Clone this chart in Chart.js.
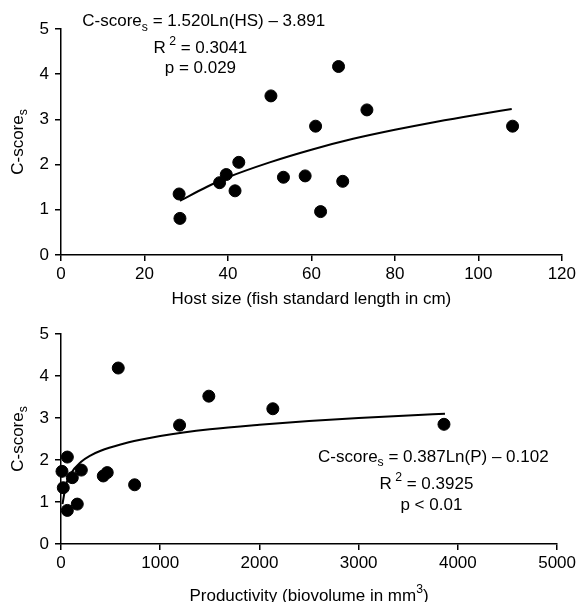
<!DOCTYPE html>
<html>
<head>
<meta charset="utf-8">
<script src="https://cdn.jsdelivr.net/npm/chart.js@4.4.1/dist/chart.umd.min.js"></script>
<style>
  body { margin: 0; background: #fff; }
  #wrap { position: relative; width: 579px; height: 602px; overflow: hidden; }
  canvas { position: absolute; left: 0; }
</style>
</head>
<body>
<div id="wrap">
  <canvas id="grafico_host" width="579" height="315" style="top:0"></canvas>
  <canvas id="grafico_prod" width="579" height="297" style="top:305px"></canvas>
</div>
<script>
// dados
const hostSize = [28.3, 28.5, 38.0, 39.6, 41.7, 42.6, 50.3, 53.3, 58.5, 61.0, 62.2, 66.5, 67.5, 73.3, 108.2];
const hostScore = [1.35, 0.81, 1.60, 1.78, 1.42, 2.05, 3.52, 1.72, 1.75, 2.85, 0.96, 4.17, 1.63, 3.21, 2.85];
const hostFitX = [28.5, 35, 40, 50, 60, 70, 80, 90, 100, 108];
const hostFitY = [1.20, 1.51, 1.72, 2.05, 2.33, 2.57, 2.77, 2.95, 3.11, 3.23];
const hostTicks = [0, 20, 40, 60, 80, 100, 120];

const prod = [10, 23, 64, 64, 114, 164, 205, 426, 466, 577, 742, 1195, 1490, 2135, 3860];
const prodScore = [1.73, 1.34, 2.07, 0.80, 1.58, 0.95, 1.76, 1.62, 1.70, 4.19, 1.41, 2.83, 3.52, 3.22, 2.85];
const prodFitX = [15, 50, 100, 200, 300, 400, 600, 800, 1000, 1500, 2000, 2500, 3000, 3500, 3870];
const prodFitY = [0.95, 1.41, 1.68, 1.95, 2.11, 2.22, 2.37, 2.48, 2.57, 2.73, 2.84, 2.93, 3.00, 3.06, 3.10];
const prodTicks = [0, 1000, 2000, 3000, 4000, 5000];

const scoreTicks = [0, 1, 2, 3, 4, 5];

const FONT = '"Liberation Sans", Arial, sans-serif';
const FS = 17;

// partes de texto: [texto, 'sub' | 'sup' | '']
function drawRich(ctx, parts, x, y) {
  let w = 0;
  parts.forEach(p => {
    ctx.font = (p[1] ? FS * 0.72 : FS) + 'px ' + FONT;
    w += ctx.measureText(p[0]).width;
  });
  let cx = x - w / 2;
  ctx.textAlign = 'left';
  ctx.textBaseline = 'middle';
  ctx.fillStyle = '#000';
  parts.forEach(p => {
    ctx.font = (p[1] ? FS * 0.72 : FS) + 'px ' + FONT;
    let dy = p[1] === 'sub' ? FS * 0.32 : (p[1] === 'sup' ? -FS * 0.38 : 0);
    ctx.fillText(p[0], cx, y + dy);
    cx += ctx.measureText(p[0]).width;
  });
}

const yTitle = [['C-score', ''], ['s', 'sub']];

function textPlugin(xTitle, notes, titleOffset) {
  return {
    id: 'textos',
    afterDraw(chart) {
      const ctx = chart.ctx;
      const a = chart.chartArea;
      const sx = chart.scales.x, sy = chart.scales.y;
      ctx.save();
      drawRich(ctx, xTitle, (a.left + a.right) / 2, a.bottom + titleOffset);
      notes.forEach(n => drawRich(ctx, n.parts, sx.getPixelForValue(n.x), sy.getPixelForValue(n.y)));
      ctx.translate(18, (a.top + a.bottom) / 2);
      ctx.rotate(-Math.PI / 2);
      drawRich(ctx, yTitle, 0, 0);
      ctx.restore();
    }
  };
}

function axes(xMax, xTicks, xHeight) {
  const common = {
    type: 'linear',
    grid: { drawOnChartArea: false, drawTicks: true, tickLength: 6, color: '#000', lineWidth: 1.5 },
    border: { display: true, color: '#000', width: 1.5 },
    ticks: { color: '#000', font: { family: FONT, size: FS }, callback: v => String(v) }
  };
  return {
    x: Object.assign({}, common, {
      min: 0, max: xMax,
      afterBuildTicks: s => { s.ticks = xTicks.map(v => ({ value: v })); },
      ticks: Object.assign({}, common.ticks, { padding: 3, maxRotation: 0 }),
      afterFit: s => { s.height = xHeight; }
    }),
    y: Object.assign({}, common, {
      min: 0, max: 5,
      afterBuildTicks: s => { s.ticks = scoreTicks.map(v => ({ value: v })); },
      ticks: Object.assign({}, common.ticks, { padding: 6 }),
      afterFit: s => { s.width = 61; }
    })
  };
}

function montar(canvas, xs, ys, fx, fy, xMax, xTicks, xHeight, rightPad, plugin) {
  return new Chart(canvas, {
    type: 'scatter',
    data: {
      datasets: [{
        data: xs.map((v, i) => ({ x: v, y: ys[i] })),
        backgroundColor: '#000',
        borderColor: '#000',
        pointRadius: 6,
        pointHoverRadius: 6,
        clip: false,
        order: 0
      }, {
        data: fx.map((v, i) => ({ x: v, y: fy[i] })),
        showLine: true,
        borderColor: '#000',
        borderWidth: 2,
        pointRadius: 0,
        cubicInterpolationMode: 'monotone',
        clip: false,
        order: 1
      }]
    },
    options: {
      responsive: false,
      animation: false,
      events: [],
      layout: { padding: { top: 29, right: rightPad, left: 0, bottom: 0 } },
      plugins: { legend: { display: false }, tooltip: { enabled: false } },
      scales: axes(xMax, xTicks, xHeight)
    },
    plugins: [plugin]
  });
}

montar(document.getElementById('grafico_host'), hostSize, hostScore, hostFitX, hostFitY, 120, hostTicks, 60, 16,
  textPlugin([['Host size (fish standard length in cm)', '']], [
    { x: 34.2, y: 5.16, parts: [['C-score', ''], ['s', 'sub'], [' = 1.520Ln(HS) \u2013 3.891', '']] },
    { x: 33.4, y: 4.58, parts: [['R', ''], [' 2', 'sup'], [' = 0.3041', '']] },
    { x: 33.4, y: 4.14, parts: [['p = 0.029', '']] }
  ], 44));

montar(document.getElementById('grafico_prod'), prod, prodScore, prodFitX, prodFitY, 5000, prodTicks, 58, 21,
  textPlugin([['Productivity (biovolume in mm', ''], ['3', 'sup'], [')', '']], [
    { x: 3753, y: 2.07, parts: [['C-score', ''], ['s', 'sub'], [' = 0.387Ln(P) \u2013 0.102', '']] },
    { x: 3683, y: 1.43, parts: [['R', ''], [' 2', 'sup'], [' = 0.3925', '']] },
    { x: 3733, y: 0.93, parts: [['p < 0.01', '']] }
  ], 52));
</script>
</body>
</html>
